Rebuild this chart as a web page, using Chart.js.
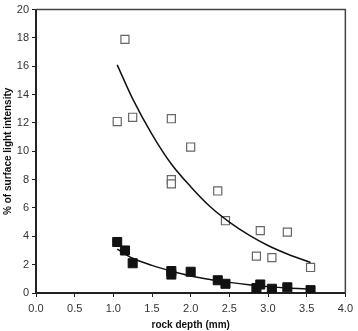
<!DOCTYPE html>
<html>
<head>
<meta charset="utf-8">
<script src="https://cdn.jsdelivr.net/npm/chart.js@4"></script>
<style>
  html, body { margin: 0; padding: 0; background: #fff; }
  #wrap { width: 358px; height: 331px; }
</style>
</head>
<body>
<div id="wrap"><canvas id="chart"></canvas></div>
<script>
// open squares
const openX = [1.05, 1.15, 1.25, 1.75, 1.75, 1.75, 2.0, 2.35, 2.45, 2.85, 2.9, 3.05, 3.25, 3.55];
const openY = [12.1, 17.9, 12.4, 12.3, 8.0, 7.7, 10.3, 7.2, 5.1, 2.6, 4.4, 2.5, 4.3, 1.8];
// filled squares
const fillX = [1.05, 1.15, 1.25, 1.75, 1.75, 2.0, 2.35, 2.45, 2.85, 2.9, 3.05, 3.25, 3.55];
const fillY = [3.6, 3.0, 2.1, 1.55, 1.3, 1.5, 0.9, 0.65, 0.35, 0.6, 0.3, 0.4, 0.2];
// trend lines
const trendX = [1.05, 1.25, 1.5, 1.75, 2.0, 2.25, 2.5, 2.75, 3.0, 3.25, 3.55];
const openTrend = [16.1, 13.7, 11.2, 9.1, 7.5, 6.1, 5.0, 4.1, 3.35, 2.75, 2.15];
const fillTrend = [3.1, 2.45, 1.95, 1.55, 1.2, 0.95, 0.75, 0.58, 0.45, 0.35, 0.27];

const pts = (xs, ys) => xs.map((x, i) => ({ x: x, y: ys[i] }));

const frame = {
  id: 'frame',
  afterDraw(c) {
    const a = c.chartArea, ctx = c.ctx;
    ctx.save();
    ctx.strokeStyle = '#444';
    ctx.lineWidth = 1.5;
    ctx.beginPath();
    ctx.moveTo(a.left, a.top);
    ctx.lineTo(a.right, a.top);
    ctx.lineTo(a.right, a.bottom);
    ctx.stroke();
    ctx.restore();
  }
};

const tickFont = { family: 'Liberation Sans, Arial, sans-serif', size: 11 };
const titleFont = { family: 'Liberation Sans, Arial, sans-serif', size: 10, weight: 'bold' };

new Chart(document.getElementById('chart'), {
  type: 'scatter',
  data: {
    datasets: [
      {
        data: pts(trendX, openTrend), showLine: true, pointRadius: 0,
        borderColor: '#111', borderWidth: 1.5, cubicInterpolationMode: 'monotone', fill: false
      },
      {
        data: pts(trendX, fillTrend), showLine: true, pointRadius: 0,
        borderColor: '#111', borderWidth: 1.5, cubicInterpolationMode: 'monotone', fill: false
      },
      {
        data: pts(openX, openY), pointStyle: 'rect', pointRadius: 5.7,
        backgroundColor: '#fff', borderColor: '#666', borderWidth: 1.2
      },
      {
        data: pts(fillX, fillY), pointStyle: 'rect', pointRadius: 6.4,
        backgroundColor: '#111', borderColor: '#111', borderWidth: 1
      }
    ]
  },
  options: {
    responsive: true,
    maintainAspectRatio: false,
    animation: false,
    layout: { padding: { top: 9, right: 7, left: 0, bottom: 0 } },
    plugins: { legend: { display: false }, tooltip: { enabled: false } },
    scales: {
      x: {
        min: 0, max: 4,
        afterFit: s => { s.height = 38; },
        ticks: { stepSize: 0.5, color: '#333', font: tickFont, padding: 5,
          callback: v => v.toFixed(1) },
        grid: { drawOnChartArea: false, tickLength: 4, color: '#222' },
        border: { color: '#222', width: 2 },
        title: { display: true, text: 'rock depth (mm)', color: '#111', font: titleFont,
          padding: { top: 0, bottom: 0 } }
      },
      y: {
        min: 0, max: 20,
        afterFit: s => { s.width = 36; },
        ticks: { stepSize: 2, color: '#333', font: tickFont, padding: 3 },
        grid: { drawOnChartArea: false, tickLength: 4, color: '#222' },
        border: { color: '#222', width: 2 },
        title: { display: true, text: '% of surface light intensity', color: '#111', font: titleFont,
          padding: { top: 2, bottom: 0 } }
      }
    }
  },
  plugins: [frame]
});
</script>
</body>
</html>
